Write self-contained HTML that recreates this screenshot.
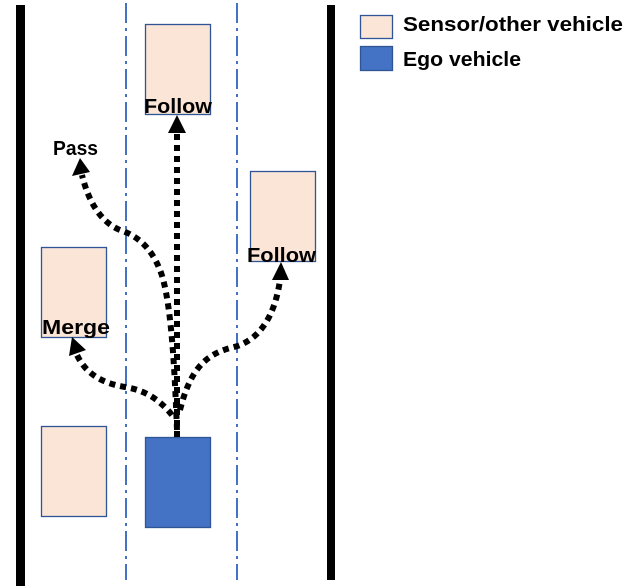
<!DOCTYPE html>
<html><head><style>html,body{margin:0;padding:0;background:#fff;}svg{display:block}</style></head>
<body>
<svg width="629" height="586" viewBox="0 0 629 586" xmlns="http://www.w3.org/2000/svg" font-family="Liberation Sans, sans-serif" font-weight="bold">
<rect x="16" y="5" width="9" height="581" fill="#000"/>
<rect x="327" y="5" width="8" height="575" fill="#000"/>
<g stroke="#4472C4" stroke-width="2" stroke-dasharray="20 5 3 5">
<line x1="126" y1="3" x2="126" y2="580"/>
<line x1="237" y1="3" x2="237" y2="580"/>
</g>
<g fill="#FBE5D6" stroke="#2F5597" stroke-width="1.3">
<rect x="145.5" y="24.5" width="65" height="90"/>
<rect x="250.5" y="171.5" width="65" height="90"/>
<rect x="41.5" y="247.5" width="65" height="90"/>
<rect x="41.5" y="426.5" width="65" height="90"/>
<rect x="360.5" y="15.5" width="32" height="23"/>
</g>
<rect x="145.5" y="437.5" width="65" height="90" fill="#4472C4" stroke="#2F5597" stroke-width="1.3"/>
<rect x="360.5" y="46.5" width="32" height="24" fill="#4472C4" stroke="#2F5597" stroke-width="1.3"/>
<g fill="none" stroke="#000" stroke-width="6" stroke-dasharray="6 5">
<path d="M177 437 L177 132"/>
<path d="M177 430 C175 380 172 300 160 270 C150 245 135 235 120 230 C100 222 88 200 82 175"/>
<path d="M172 415 C160 400 145 390 125 387 C100 383 85 372 77 355"/>
<path d="M180 410 C190 370 205 355 230 348 C260 342 275 315 280 280"/>
</g>
<g fill="#000">
<polygon points="177,115 168,133 186,133"/>
<polygon points="80,158 72,176 90,172"/>
<polygon points="72,337 69,356 86,350"/>
<polygon points="281,262 272,280 289,280"/>
</g>
<g font-size="20" fill="#000">
<text x="144" y="113" textLength="68" lengthAdjust="spacingAndGlyphs">Follow</text>
<text x="53" y="155" textLength="45" lengthAdjust="spacingAndGlyphs">Pass</text>
<text x="42" y="334" textLength="68" lengthAdjust="spacingAndGlyphs">Merge</text>
<text x="247" y="262" textLength="69" lengthAdjust="spacingAndGlyphs">Follow</text>
<text x="403" y="31" textLength="220" lengthAdjust="spacingAndGlyphs">Sensor/other vehicle</text>
<text x="403" y="66" textLength="118" lengthAdjust="spacingAndGlyphs">Ego vehicle</text>
</g>
</svg>
</body></html>
